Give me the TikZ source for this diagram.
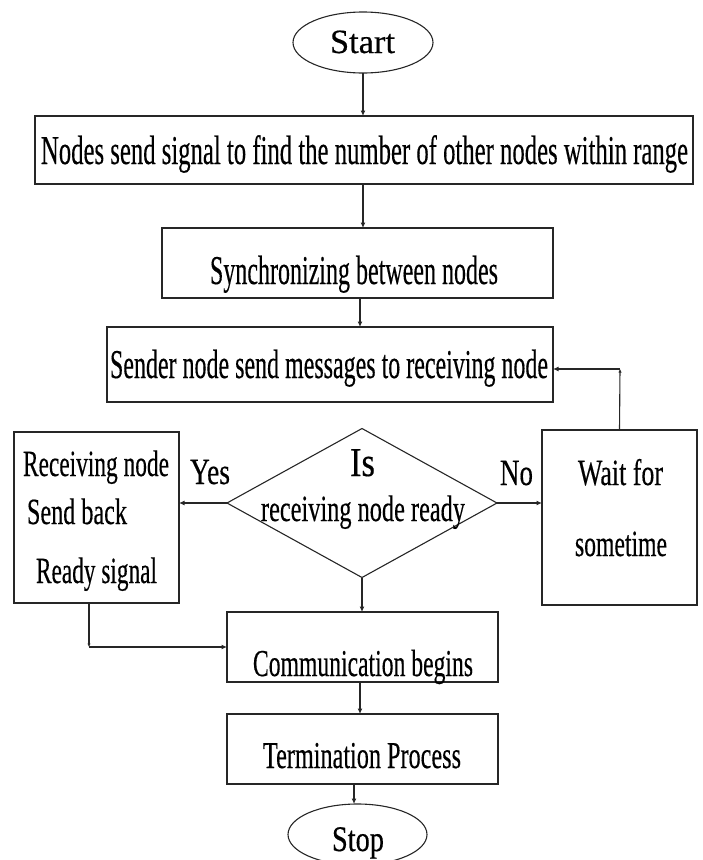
\documentclass[tikz,border=0pt]{standalone}
\usepackage{fontspec}
\setmainfont{Liberation Serif}
\newfontfamily\heavyserif{Liberation Serif}[FakeBold=0.4]
\usepackage{graphicx}
\usetikzlibrary{shapes.geometric,arrows.meta}
\newcommand{\tx}[3]{\resizebox{#2pt}{\height}{\heavyserif\fontsize{#1pt}{#1pt}\selectfont #3}}
\begin{document}
\begin{tikzpicture}[x=1pt,y=-1pt,
  shp/.style={draw=black!85, line width=1.1pt, inner sep=0pt, outer sep=0pt},
  boxnode/.style={shp, rectangle},
  ovalnode/.style={shp, ellipse},
  decnode/.style={shp, diamond},
  txt/.style={anchor=base west, inner sep=0pt, outer sep=0pt},
  arr/.style={line width=1.1pt, draw=black!85, -{Latex[length=5.5pt,width=5pt]}},
  tinyarr/.style={line width=1.1pt, draw=black!85, -{Latex[length=3.5pt,width=3.5pt]}}]
\useasboundingbox (0,0) rectangle (702,860);

% shapes
\node[ovalnode, minimum width=140pt, minimum height=61pt] (start) at (363,42.5) {};
\node[boxnode, minimum width=658pt, minimum height=68pt] (b1) at (364,150) {};
\node[boxnode, minimum width=391pt, minimum height=70pt] (b2) at (357.5,263) {};
\node[boxnode, minimum width=446pt, minimum height=75pt] (b3) at (330,364.5) {};
\node[boxnode, minimum width=165pt, minimum height=171pt] (lb) at (96.5,517.5) {};
\node[decnode, minimum width=270pt, minimum height=149pt] (d) at (362,503) {};
\node[boxnode, minimum width=155pt, minimum height=175pt] (wb) at (619.5,517.5) {};
\node[boxnode, minimum width=271pt, minimum height=70pt] (cb) at (362.5,647) {};
\node[boxnode, minimum width=271pt, minimum height=70pt] (tb) at (362.5,749) {};
\node[ovalnode, minimum width=139pt, minimum height=61pt] (stop) at (357.5,834.5) {};

% texts
\node[txt] (tstart) at (330,53) {\tx{34}{65}{Start}};
\node[txt] (t1) at (41,164) {\tx{41}{647}{Nodes send signal to find the number of other nodes within range}};
\node[txt] (t2) at (210,284) {\tx{41}{288}{Synchronizing between nodes}};
\node[txt] (t3) at (110,378) {\tx{41}{438}{Sender node send messages to receiving node}};
\node[txt] (tl1) at (23,476) {\tx{37}{146}{Receiving node}};
\node[txt] (tl2) at (27,524) {\tx{37}{100}{Send back}};
\node[txt] (tl3) at (36,583) {\tx{37}{121}{Ready signal}};
\node[txt] (tyes) at (190,484) {\tx{37}{40}{Yes}};
\node[txt] (tis) at (350,476) {\tx{41}{25}{Is}};
\node[txt] (td) at (261,521) {\tx{37}{204}{receiving node ready}};
\node[txt] (tno) at (500,485) {\tx{37}{33}{No}};
\node[txt] (tw1) at (578,485) {\tx{37}{85}{Wait for}};
\node[txt] (tw2) at (575,556) {\tx{37}{92}{sometime}};
\node[txt] (tc) at (253,676) {\tx{38}{220}{Communication begins}};
\node[txt] (tt) at (263,768) {\tx{38}{198}{Termination Process}};
\node[txt] (tstop) at (332,851) {\tx{36}{52}{Stop}};

% connectors
\draw[arr] (start.south) -- (start.south |- b1.north);
\draw[arr] (start.south |- b1.south) -- (start.south |- b2.north);
\draw[arr] (360,0 |- b2.south) -- (360,0 |- b3.north);
\draw[arr] (d.west) -- (d.west -| lb.east);
\draw[arr] (d.east) -- (d.east -| wb.west);
\draw[arr] (d.south) -- (d.south |- cb.north);
\draw[arr] (360,0 |- cb.south) -- (360,0 |- tb.north);
\draw[arr] (354,0 |- tb.south) -- (354,0 |- stop.north);
\coordinate (c1) at (620,369);
\draw[tinyarr] (wb.north) -- (c1);
\draw[arr] (c1) -- (c1 -| b3.east);
\coordinate (c2) at (89,647);
\draw[tinyarr] (c2 |- lb.south) -- (c2);
\draw[arr] (c2) -- (c2 -| cb.west);
\end{tikzpicture}
\end{document}
